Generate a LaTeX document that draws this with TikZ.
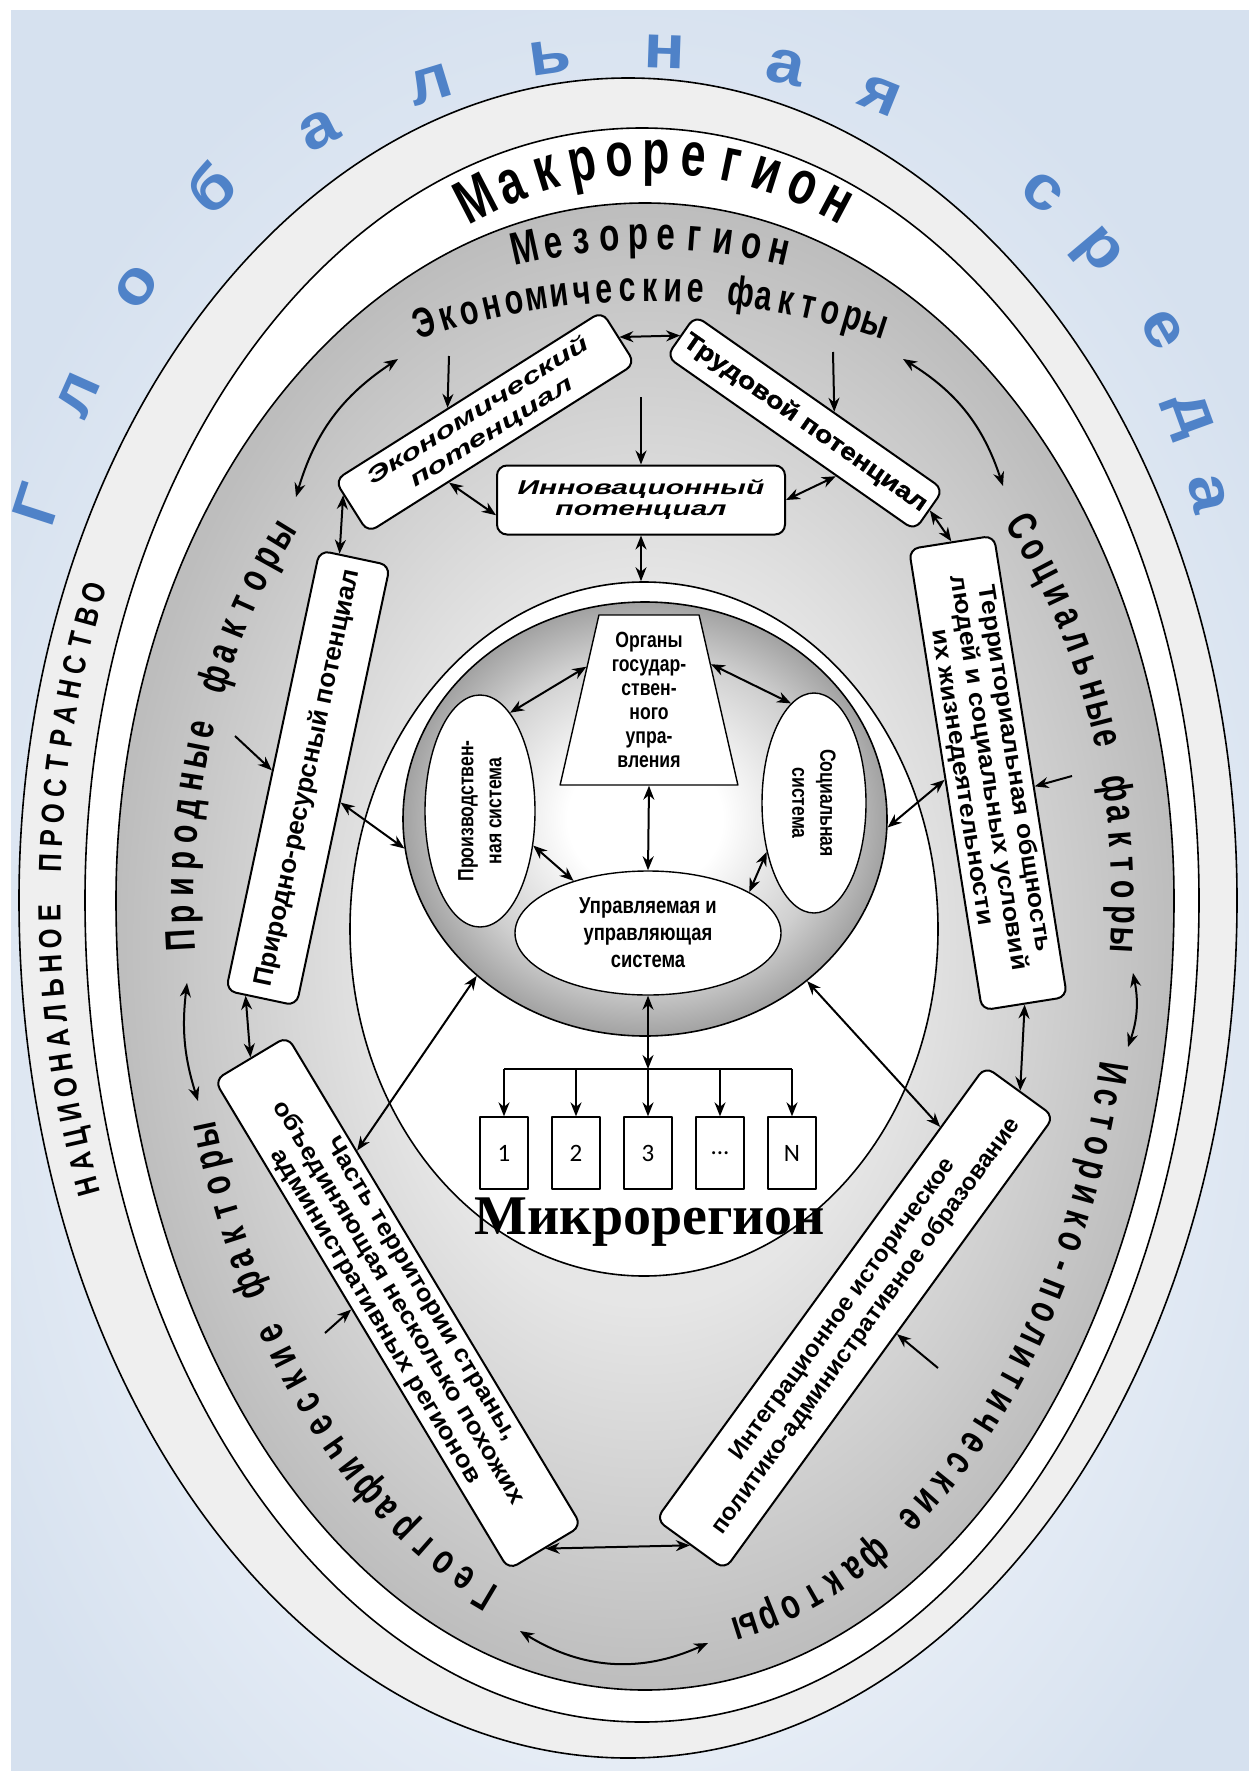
\documentclass[tikz,border=0pt]{standalone}
\usepackage{fontspec}
\setmainfont{Liberation Sans}
\newfontfamily\fCond[FakeStretch=0.72]{Liberation Sans}
\newfontfamily\fNar[FakeStretch=0.8]{Liberation Sans}
\newfontfamily\fWide[FakeStretch=1.5]{Liberation Sans}
\newfontfamily\fMid[FakeStretch=1.1]{Liberation Sans}
\newfontfamily\fHeavy[FakeStretch=1.18,FakeBold=1.2]{Liberation Sans}
\newfontfamily\fSerifB{Liberation Serif}
\newfontfamily\fCal{Carlito}
\usetikzlibrary{arrows.meta,shapes.geometric,calc}

\definecolor{bgC}{HTML}{F4F7FB}
\definecolor{bgE}{HTML}{D6E1EF}
\definecolor{natC}{HTML}{EFEFEF}
\definecolor{mesoC}{HTML}{E6E6E6}
\definecolor{mesoE}{HTML}{BDBDBD}
\definecolor{sphC}{HTML}{FFFFFF}
\definecolor{sphM}{HTML}{CFCFCF}
\definecolor{sphE}{HTML}{A2A2A2}
\definecolor{globC}{HTML}{4F82C8}

\pgfdeclareradialshading{bgSh}{\pgfpoint{0bp}{-8bp}}{color(0bp)=(bgC); color(10bp)=(bgC); color(30bp)=(bgE); color(50bp)=(bgE)}
\pgfdeclareradialshading{mesoSh}{\pgfpointorigin}{color(0bp)=(mesoC); color(12bp)=(mesoC); color(25bp)=(mesoE); color(50bp)=(mesoE)}
\pgfdeclareradialshading{sphSh}{\pgfpointorigin}{color(0bp)=(sphC); color(8bp)=(sphC); color(19bp)=(sphM); color(25bp)=(sphE); color(50bp)=(sphE)}

\newcommand\SetEll[4]{\def\acx{#1}\def\acy{#2}\def\arx{#3}\def\ary{#4}}
\newcommand\ArcTxt[5]{%
  \xdef\curT{#2}%
  \foreach \ch [count=\ii] in {#5}{%
    \pgfmathsetmacro\rot{atan2(-\ary*cos(\curT),-\arx*sin(\curT))}%
    \pgfmathsetmacro\px{\acx+\arx*cos(\curT)}%
    \pgfmathsetmacro\py{\acy+\ary*sin(\curT)}%
    \node[#4,rotate=\rot] (#1\ii) at (\px,\py) {\ch};%
    \pgfmathsetmacro\spd{100*sqrt((\arx/100*sin(\curT))^2+(\ary/100*cos(\curT))^2)}%
    \pgfmathsetmacro\nt{\curT+#3/\spd*57.29578}%
    \xdef\curT{\nt}%
  }}

\tikzset{
  lt/.style={inner sep=0pt, anchor=center},
  macT/.style={lt, text height=45pt, text depth=13pt, font=\fCond\bfseries\fontsize{62}{62}\selectfont},
  mezT/.style={lt, text height=33pt, text depth=10pt, font=\fCond\bfseries\fontsize{46}{46}\selectfont},
  facT/.style={lt, text height=31pt, text depth=9pt, font=\fCond\bfseries\fontsize{42}{42}\selectfont},
  natT/.style={lt, text height=24pt, text depth=7pt, font=\fNar\bfseries\fontsize{32}{32}\selectfont},
  globT/.style={lt, text=globC, text height=47pt, text depth=14pt, font=\fMid\bfseries\fontsize{62}{62}\selectfont},
  box/.style={draw, line width=2pt, rounded corners=10pt, fill=white, align=center, inner sep=0pt},
  oline/.style={draw=black, line width=1.6pt},
  arr/.style={line width=2pt, -{Stealth[length=14pt,width=11pt]}},
  darr/.style={line width=2pt, {Stealth[length=14pt,width=11pt]}-{Stealth[length=14pt,width=11pt]}},
  mbox/.style={draw, line width=1.3pt, fill=white, minimum width=48pt, minimum height=72pt, inner sep=0pt, font=\fCal\fontsize{25}{25}\selectfont}
}

\begin{document}
\begin{tikzpicture}[x=1pt,y=-1pt,line join=round]
\useasboundingbox (0,0) rectangle (1249,1771);
\fill[white] (0,0) rectangle (1249,1771);
\shade[shading=bgSh] (11,11) rectangle (1249,1771);

% eggs
\path[oline, fill=natC] (19,900) arc[start angle=180,end angle=360,x radius=609,y radius=822] arc[start angle=0,end angle=180,x radius=609,y radius=858] -- cycle;
\path[oline, fill=white] (85,900) arc[start angle=180,end angle=360,x radius=557,y radius=772] arc[start angle=0,end angle=180,x radius=557,y radius=822] -- cycle;
\shadedraw[shading=mesoSh, line width=1.6pt] (116,900) arc[start angle=180,end angle=360,x radius=529,y radius=697] arc[start angle=0,end angle=180,x radius=529,y radius=790] -- cycle;

% Global text
\node[globT, rotate=72] (g1) at (42,506) {Г};
\node[globT, rotate=66] (g2) at (78,395) {л};
\node[globT, rotate=56] (g3) at (136,287) {о};
\node[globT, rotate=41] (g4) at (215,192) {б};
\node[globT, rotate=27] (g5) at (319,130) {а};
\node[globT, rotate=17] (g6) at (430,84) {л};
\node[globT, rotate=8] (g7) at (550,57) {ь};
\node[globT, rotate=-2] (g8) at (665,52) {н};
\node[globT, rotate=-12] (g9) at (785,67) {а};
\node[globT, rotate=-22] (g10) at (880,96) {я};
\node[globT, rotate=-38] (g11) at (1043,192) {с};
\node[globT, rotate=-50] (g12) at (1101,249) {р};
\node[globT, rotate=-60] (g13) at (1162,330) {е};
\node[globT, rotate=-70] (g14) at (1193,414) {д};
\node[globT, rotate=-78] (g15) at (1208,494) {а};

% arc texts
\SetEll{655}{900}{520}{742}
\ArcTxt{mak}{250.1}{37.3}{macT}{М,а,к,р,о,р,е,г,и,о,н}
\SetEll{650}{900}{620}{662}
\ArcTxt{mez}{258.4}{28.4}{mezT}{М,е,з,о,р,е,г,и,о,н}
\SetEll{651}{900}{665}{610}
\ArcTxt{eco}{250.2}{22.8}{facT}{Э,к,о,н,о,м,и,ч,е,с,к,и,е,{},ф,а,к,т,о,р,ы}
\SetEll{653}{900}{470}{595}
\ArcTxt{pri}{176.1}{26.5}{facT}{П,р,и,р,о,д,н,ы,е,{},ф,а,к,т,о,р,ы}
\ArcTxt{soc}{321.3}{25.3}{facT}{С,о,ц,и,а,л,ь,н,ы,е,{},ф,а,к,т,о,р,ы}
\SetEll{653}{900}{470}{740}
\ArcTxt{his}{13.5}{25}{facT}{И,с,т,о,р,и,к,о,-,п,о,л,и,т,и,ч,е,с,к,и,е,{},ф,а,к,т,о,р,ы}
\ArcTxt{geo}{110.7}{26}{facT}{Г,е,о,г,р,а,ф,и,ч,е,с,к,и,е,{},ф,а,к,т,о,р,ы}
\SetEll{630}{900}{578}{800}
\ArcTxt{nat}{159.1}{25}{natT}{Н,А,Ц,И,О,Н,А,Л,Ь,Н,О,Е,{},П,Р,О,С,Т,Р,А,Н,С,Т,В,О}

% micro oval and sphere
\node[ellipse, oline, fill=white, minimum width=588pt, minimum height=694pt, inner sep=0pt] (oval) at (644,929) {};
\node[ellipse, draw=black, line width=1.6pt, shade, shading=sphSh, minimum width=484pt, minimum height=434pt, inner sep=0pt] (sphere) at (645,819) {};

\node[trapezium, trapezium left angle=78, trapezium right angle=78, trapezium stretches=true, minimum width=178pt, minimum height=170pt, draw, line width=1.4pt, fill=white, inner sep=0pt, align=center, font=\fNar\bfseries\fontsize{22}{24}\selectfont] (trap) at (649,700) {Органы\\государ-\\ствен-\\ного\\упра-\\вления};
\node[ellipse, draw, line width=1.4pt, fill=white, minimum width=110pt, minimum height=232pt, inner sep=0pt] (proizv) at (480,811) {};
\node[rotate=90, align=center, inner sep=0pt, font=\fNar\bfseries\fontsize{22}{28}\selectfont] (proizvT) at (proizv) {Производствен-\\ная система};
\node[ellipse, draw, line width=1.4pt, fill=white, minimum width=104pt, minimum height=220pt, inner sep=0pt] (socsys) at (814,803) {};
\node[rotate=-90, align=center, inner sep=0pt, font=\fNar\bfseries\fontsize{22}{28}\selectfont] (socsysT) at (socsys) {Социальная\\система};
\node[ellipse, draw, line width=1.4pt, fill=white, minimum width=266pt, minimum height=124pt, inner sep=0pt, align=center, font=\fNar\bfseries\fontsize{23}{27}\selectfont] (upr) at (648,933) {Управляемая и\\управляющая\\система};

\draw[darr] (trap.152) -- (proizv.73);
\draw[darr] (trap.30) -- (socsys.103);
\draw[darr] (trap.south) -- (upr.north);
\draw[darr] (proizv.-33) -- (upr.145);
\draw[darr] (socsys.-134) -- (upr.22);

% micro boxes
\node[mbox] (b1) at (504,1153) {1};
\node[mbox] (b2) at (576,1153) {2};
\node[mbox] (b3) at (648,1153) {3};
\node[mbox] (b4) at (720,1153) {...};
\node[mbox] (b5) at (792,1153) {N};
\coordinate (jn) at (648,1069);
\draw[darr] (upr.south) -- (jn);
\draw[line width=2pt] (b1.north |- jn) -- (b5.north |- jn);
\foreach \b in {b1,b2,b3,b4,b5} \draw[arr] (\b.north |- jn) -- (\b.north);
\node[font=\fSerifB\bfseries\fontsize{56}{56}\selectfont, inner sep=0pt] (microT) at (650,1222) {Микрорегион};

% boxes
\node[box, minimum width=316pt, minimum height=62pt, rotate=32.3, font=\fWide\bfseries\itshape\fontsize{22}{25}\selectfont] (ekon) at (485,422) {Экономический\\потенциал};
\node[box, minimum width=303pt, minimum height=50pt, rotate=-35, font=\fHeavy\bfseries\fontsize{24}{26}\selectfont] (trud) at (805,423) {Трудовой потенциал};
\node[box, minimum width=288pt, minimum height=69pt, font=\fWide\bfseries\itshape\fontsize{20}{21}\selectfont] (innov) at (641,500) {Инновационный\\потенциал};
\node[box, minimum width=450pt, minimum height=72pt, rotate=78, font=\bfseries\fontsize{26}{26}\selectfont] (prir) at (308,778) {Природно-ресурсный потенциал};
\node[box, minimum width=467pt, minimum height=86pt, rotate=-81, font=\fMid\bfseries\fontsize{24}{26.5}\selectfont] (terr) at (988,773) {Территориальная общность\\людей и социальных условий\\их жизнедеятельности};
\node[box, minimum width=571pt, minimum height=85pt, rotate=-59, font=\fMid\bfseries\fontsize{24}{26.5}\selectfont] (chast) at (398,1303) {Часть территории страны,\\объединяющая несколько похожих\\административных регионов};
\node[box, minimum width=560pt, minimum height=85pt, rotate=54, font=\bfseries\fontsize{24}{29}\selectfont] (integ) at (855,1318) {Интеграционное историческое\\политико-административное образование};

% connectors between boxes
\draw[darr] (ekon.east) -- (trud.west);
\coordinate (eT1) at (449,356);
\coordinate (eT2) at (833,352);
\coordinate (eT3) at (641,397);
\draw[arr] (eT1) -- (ekon.127);
\draw[arr] (eT2) -- (trud.56);
\draw[arr] (eT3) -- (innov.north);
\draw[darr] (ekon.-153) -- (innov.-174);
\draw[darr] (trud.-25) -- (innov.east);
\draw[darr] (innov.south) -- (innov.south |- oval.north);
\draw[darr] (ekon.175) -- (prir.4);
\draw[darr] (trud.east) -- (terr.west);
\draw[darr] (prir.-115) -- (sphere.187);
\draw[darr] (terr.south) -- (sphere.-2);
\draw[darr] (prir.176) -- (chast.west);
\draw[darr] (terr.east) -- (integ.east);
\draw[darr] (chast.east) -- (integ.west);
\draw[darr] (sphere.223) -- (chast.164);
\draw[darr] (sphere.-45) -- (integ.12);

% factor arrows
\coordinate (fPr) at (235,736);
\coordinate (fSo) at (1072,776);
\coordinate (fGe) at (325,1333);
\coordinate (fHi) at (938,1368);
\draw[arr] (fPr) -- (prir.north);
\draw[arr] (fSo) -- (terr.65);
\draw[arr] (fGe) -- (chast.-113);
\draw[arr] (fHi) -- (integ.-75);

% curved arrows between factor groups
\coordinate (k1a) at (398,359); \coordinate (k1b) at (296,497);
\coordinate (k2a) at (903,359); \coordinate (k2b) at (1003,486);
\coordinate (k3a) at (187,983); \coordinate (k3b) at (198,1101);
\coordinate (k4a) at (1133,973); \coordinate (k4b) at (1128,1047);
\coordinate (k5a) at (520,1631); \coordinate (k5b) at (708,1643);
\draw[darr] (k1a) to[bend right=20] (k1b);
\draw[darr] (k2a) to[bend left=20] (k2b);
\draw[darr] (k3a) to[bend right=12] (k3b);
\draw[darr] (k4a) to[bend left=15] (k4b);
\draw[darr] (k5a) to[bend right=28] (k5b);
\end{tikzpicture}
\end{document}
